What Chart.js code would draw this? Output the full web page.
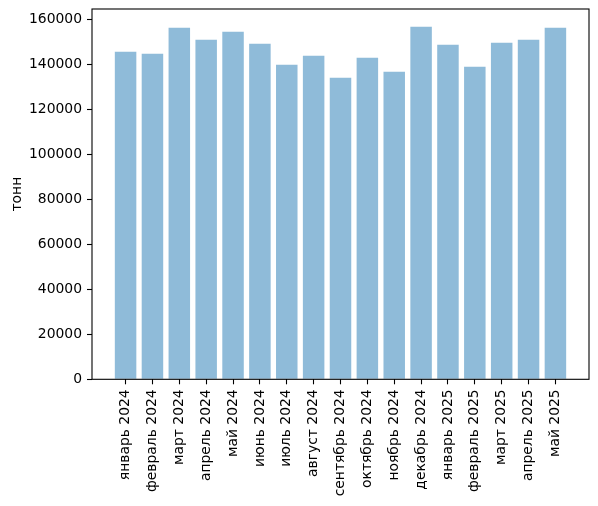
<!DOCTYPE html>
<html>
<head>
<meta charset="utf-8">
<script src="https://cdn.jsdelivr.net/npm/chart.js@4/dist/chart.umd.min.js"></script>
<style>
  body { margin: 0; background: #fff; }
</style>
</head>
<body>
<canvas id="myChart" width="598" height="506"></canvas>
<script>
// месяцы и объёмы, тонн
var months = ["январь 2024", "февраль 2024", "март 2024", "апрель 2024", "май 2024", "июнь 2024",
    "июль 2024", "август 2024", "сентябрь 2024", "октябрь 2024", "ноябрь 2024", "декабрь 2024",
    "январь 2025", "февраль 2025", "март 2025", "апрель 2025", "май 2025"];
var tonnes = [145750, 144860, 156430, 151090, 154650, 149310, 139960, 143960, 134170,
    143080, 136840, 156880, 148860, 139070, 149750, 151090, 156430];
var yTicks = [0, 20000, 40000, 60000, 80000, 100000, 120000, 140000, 160000];

Chart.defaults.font.family = "'DejaVu Sans', sans-serif";
Chart.defaults.font.size = 13.9;
Chart.defaults.color = '#000';

// рамка вокруг области графика, как в matplotlib
const frame = {
    id: 'frame',
    afterDraw(chart) {
        const a = chart.chartArea, c = chart.ctx;
        c.save();
        c.strokeStyle = '#000';
        c.lineWidth = 1.1;
        c.strokeRect(a.left, a.top, a.right - a.left, a.bottom - a.top);
        c.restore();
    }
};

const ctx = document.getElementById('myChart').getContext('2d');
const myChart = new Chart(ctx, {
    type: 'bar',
    data: {
        datasets: [{
            label: 'тонн',
            data: tonnes.map(function(v, i) { return {x: i, y: v}; }),
            backgroundColor: 'rgba(31,119,180,0.5)',
            barPercentage: 0.8,
            categoryPercentage: 1
        }]
    },
    options: {
        responsive: false,
        animation: false,
        layout: { padding: { top: 9, right: 9, left: 0, bottom: 0 } },
        plugins: {
            legend: { display: false },
            tooltip: { enabled: false }
        },
        scales: {
            x: {
                type: 'linear',
                offset: false,
                min: -1.25,
                max: 17.25,
                afterBuildTicks: function(scale) {
                    scale.ticks = months.map(function(m, i) { return {value: i}; });
                },
                afterFit: function(scale) {
                    scale.height = 126.7;
                    scale.paddingLeft = 0;
                    scale.paddingRight = 0;
                },
                grid: { offset: false, drawOnChartArea: false, tickLength: 5, tickColor: '#000', tickWidth: 1.1 },
                border: { display: false },
                ticks: {
                    autoSkip: false,
                    minRotation: 90,
                    maxRotation: 90,
                    padding: 5,
                    callback: function(v) { return months[v]; }
                }
            },
            y: {
                min: 0,
                max: 164760,
                afterBuildTicks: function(scale) {
                    scale.ticks = yTicks.map(function(v) { return {value: v}; });
                },
                afterFit: function(scale) {
                    scale.width = 92;
                    scale.paddingTop = 0;
                    scale.paddingBottom = 0;
                },
                grid: { drawOnChartArea: false, tickLength: 5, tickColor: '#000', tickWidth: 1.1 },
                border: { display: false },
                ticks: {
                    padding: 5,
                    callback: function(v) { return String(v); }
                },
                title: {
                    display: true,
                    text: 'тонн',
                    padding: { top: 9, bottom: 0 }
                }
            }
        }
    },
    plugins: [frame]
});
</script>
</body>
</html>
